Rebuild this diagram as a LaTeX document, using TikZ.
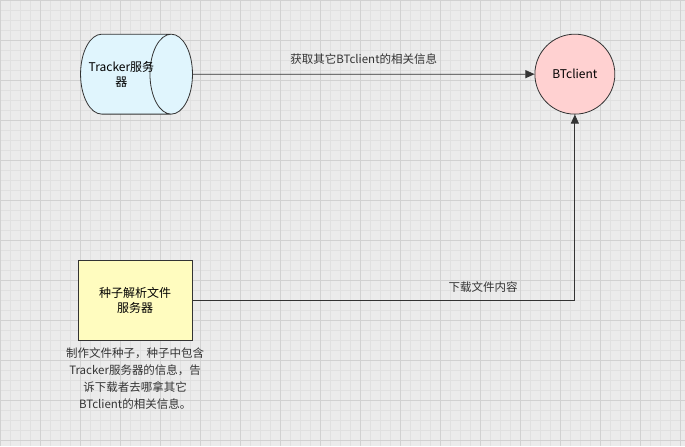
\documentclass[tikz,border=0pt]{standalone}
\usepackage{fontspec}
\setmainfont{Noto Sans CJK SC}
\usetikzlibrary{shapes.geometric,arrows.meta,positioning}
\tikzset{>={Triangle[length=9pt,width=8pt]}}

\begin{document}
\begin{tikzpicture}[x=1pt,y=-1pt,
                    box/.style={draw=black!80, thick, align=center, font=\fontsize{12}{15}\selectfont},
                    link/.style={thick, black!80, ->},
                    note/.style={font=\fontsize{11.5}{17}\selectfont, text=black!80},
                   ]

\fill[black!8] (0,0) rectangle (685,446);
\foreach \x in {0,10,...,680} \draw[black!12] (\x,0) -- (\x,446);
\foreach \y in {0,10,...,440} \draw[black!12] (0,\y) -- (685,\y);
\foreach \x in {0,40,...,680} \draw[black!18] (\x,0) -- (\x,446);
\foreach \y in {0,40,...,440} \draw[black!18] (0,\y) -- (685,\y);
\useasboundingbox (0,0) rectangle (685,446);

\node[box, cylinder, shape border rotate=0, aspect=1.3, inner xsep=-14pt, fill=cyan!12, minimum width=80pt, minimum height=112pt, anchor=west] (tracker) at (80,74) {Tracker服务\\器};
\node[box, circle, fill=red!18, minimum size=80pt] (client) at (575,74) {BTclient};
\node[box, fill=yellow!25, minimum width=114pt, minimum height=80pt] (seed) at (135,300) {种子解析文件\\服务器};

\draw[link] (tracker) -- (client) node[note, midway, above=6pt] {获取其它BTclient的相关信息};
\draw[link] (seed.east) -| (client.south) node[note, pos=0.38, above=4pt] {下载文件内容};

\node[note, align=center, below=4pt of seed] (info) {制作文件种子，种子中包含\\Tracker服务器的信息，告\\诉下载者去哪拿其它\\BTclient的相关信息。};

\end{tikzpicture}
\end{document}
